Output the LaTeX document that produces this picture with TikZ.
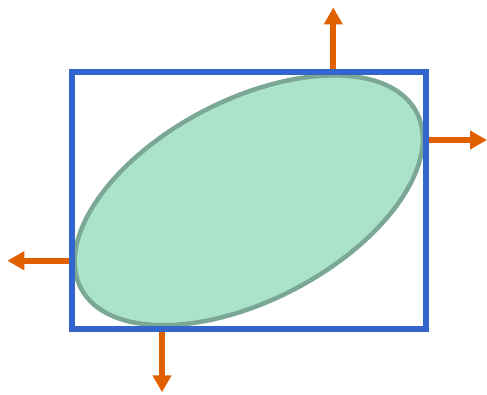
\documentclass[tikz,border=0pt]{standalone}
\usetikzlibrary{arrows.meta}
\definecolor{boxblue}{HTML}{3366CC}
\definecolor{arroworange}{HTML}{E06000}
\definecolor{ellfill}{HTML}{ABE3CA}
\definecolor{elledge}{HTML}{7BA896}
\begin{document}
\begin{tikzpicture}[x=1pt,y=1pt,
  outarrow/.style={draw=arroworange,line width=6pt,-{Triangle[length=17pt,width=18pt]}},
  boxline/.style={draw=boxblue,line width=6pt},
  ellstyle/.style={fill=ellfill,draw=elledge,line width=4.5pt}]
\useasboundingbox (0,0) rectangle (487,394);
\coordinate (c) at (248.75,193.75);
\coordinate (ptop) at (333.3,322);
\coordinate (tipTop) at (333.3,386.5);
\coordinate (pright) at (425.5,254);
\coordinate (tipRight) at (487,254);
\coordinate (pleft) at (72,133.3);
\coordinate (tipLeft) at (7.3,133.3);
\coordinate (pbottom) at (162,65.5);
\coordinate (tipBottom) at (162,1.7);
\draw[outarrow] (ptop) -- (tipTop);
\draw[outarrow] (pright) -- (tipRight);
\draw[outarrow] (pleft) -- (tipLeft);
\draw[outarrow] (pbottom) -- (tipBottom);
\draw[ellstyle,rotate around={27.72:(c)}] (c) ellipse [x radius=189.5, y radius=100];
\draw[boxline] (72,322) rectangle (425.5,65.5);
\end{tikzpicture}
\end{document}
